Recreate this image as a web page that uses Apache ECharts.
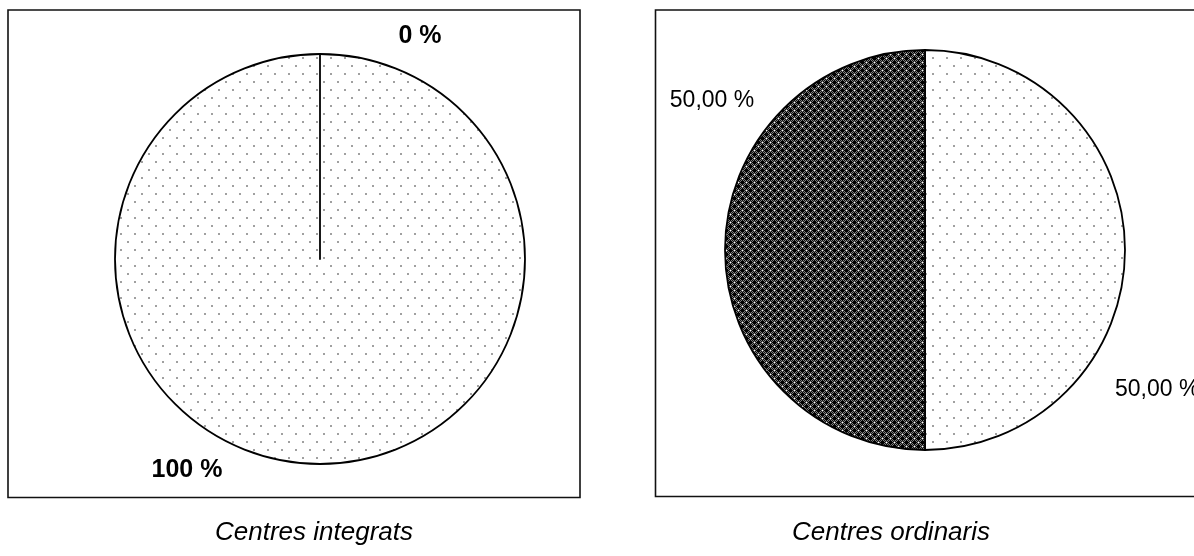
<!DOCTYPE html>
<html>
<head>
<meta charset="utf-8">
<script src="https://cdn.jsdelivr.net/npm/echarts@6/dist/echarts.min.js"></script>
<style>
  html, body { margin: 0; padding: 0; background: #ffffff; }
  #chart { width: 1194px; height: 556px; }
</style>
</head>
<body>
<div id="chart"></div>
<script>
// Share of each category per type of centre (two pies)
const categories = ['Categoria A', 'Categoria B'];
const integratsValues = [100, 0];
const ordinarisValues = [50, 50];
const chartTitles = ['Centres integrats', 'Centres ordinaris'];
const labelDecimals = [0, 2];

const FONT = "'Liberation Sans', Arial, sans-serif";

// Light fill: white with a staggered grid of small grey dots
function dotPattern() {
  const c = document.createElement('canvas');
  c.width = 14; c.height = 16;
  const g = c.getContext('2d');
  g.fillStyle = '#ffffff';
  g.fillRect(0, 0, 14, 16);
  g.fillStyle = '#a0a0a0';
  g.fillRect(1, 1, 2, 2);
  g.fillRect(8, 9, 2, 2);
  return c;
}

// Dark fill: black crosses on a grey checker with white specks
function crossPattern() {
  const c = document.createElement('canvas');
  c.width = 8; c.height = 8;
  const g = c.getContext('2d');
  for (let y = 0; y < 8; y++) {
    for (let x = 0; x < 8; x++) {
      g.fillStyle = (x + y) % 2 === 0 ? '#111111' : '#7c7c7c';
      g.fillRect(x, y, 1, 1);
    }
  }
  g.fillStyle = '#000000';
  [[2, 2], [6, 6]].forEach(([cx, cy]) => {
    g.fillRect(cx - 1, cy - 1, 3, 3);
    g.fillRect(cx - 2, cy, 5, 1);
    g.fillRect(cx, cy - 2, 1, 5);
  });
  g.fillStyle = '#ffffff';
  g.fillRect(6, 2, 1, 1);
  g.fillRect(2, 6, 1, 1);
  return c;
}

const fills = [
  { image: dotPattern(), repeat: 'repeat' },
  { image: crossPattern(), repeat: 'repeat' }
];

function formatPct(v, decimals) {
  return v.toFixed(decimals).replace('.', ',') + ' %';
}

function buildData(values) {
  return categories.map((name, i) => ({
    name: name,
    value: values[i],
    itemStyle: { color: fills[i] }
  }));
}

function pieSeries(values, center, radius) {
  return {
    type: 'pie',
    center: center,
    radius: radius,
    startAngle: 90,
    clockwise: true,
    silent: true,
    animation: false,
    data: buildData(values),
    itemStyle: { borderColor: '#000000', borderWidth: 1.8 },
    label: { show: false },
    labelLine: { show: false },
    emphasis: { disabled: true }
  };
}

// Slice value labels: anchor point, alignment and weight for each pie / slice
const labelSpots = [
  [ { x: 187, y: 470, align: 'center', bold: true }, { x: 420, y: 36, align: 'center', bold: true } ],
  [ { x: 1115, y: 390, align: 'left', bold: false }, { x: 712, y: 101, align: 'center', bold: false } ]
];

function valueLabels(values, pieIdx) {
  return values.map((v, i) => {
    const s = labelSpots[pieIdx][i];
    return {
      type: 'text', x: s.x, y: s.y, silent: true, z: 10,
      style: {
        text: formatPct(v, labelDecimals[pieIdx]),
        fill: '#000000',
        font: (s.bold ? 'bold 25px ' : '23px ') + FONT,
        textAlign: s.align,
        textVerticalAlign: 'middle'
      }
    };
  });
}

const chart = echarts.init(document.getElementById('chart'), null, { renderer: 'canvas' });

chart.setOption({
  backgroundColor: '#ffffff',
  animation: false,
  graphic: [
    { type: 'rect', shape: { x: 8, y: 10, width: 572, height: 487.5 },
      style: { fill: 'none', stroke: '#111111', lineWidth: 1.6 }, silent: true },
    { type: 'rect', shape: { x: 655.5, y: 10, width: 600, height: 486.5 },
      style: { fill: 'none', stroke: '#111111', lineWidth: 1.6 }, silent: true },
    { type: 'text', x: 314, y: 533, silent: true,
      style: { text: chartTitles[0], fill: '#000000', font: 'italic 26px ' + FONT,
               textAlign: 'center', textVerticalAlign: 'middle' } },
    { type: 'text', x: 891, y: 533, silent: true,
      style: { text: chartTitles[1], fill: '#000000', font: 'italic 26px ' + FONT,
               textAlign: 'center', textVerticalAlign: 'middle' } }
  ].concat(valueLabels(integratsValues, 0), valueLabels(ordinarisValues, 1)),
  series: [
    pieSeries(integratsValues, [320, 259], 205),
    pieSeries(ordinarisValues, [925, 250], 200)
  ]
});
</script>
</body>
</html>
